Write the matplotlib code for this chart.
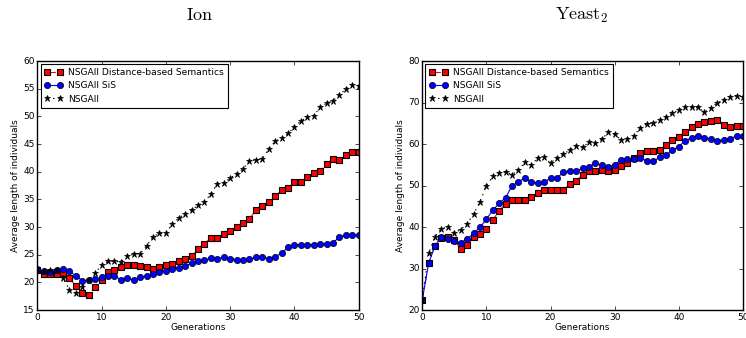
import matplotlib
matplotlib.use("Agg")
import matplotlib.pyplot as plt
import numpy as np

plt.style.use('classic')
plt.rcParams['mathtext.fontset'] = 'cm'
plt.rcParams['font.family'] = ['DejaVu Sans']

generations = list(range(51))

ion_dbs = [22.2, 21.45, 21.45, 21.5, 21.7, 20.7, 19.4, 18.0, 17.8, 19.1, 20.4,
           21.8, 22.3, 22.7, 23.2, 23.1, 23.0, 22.7, 22.5, 22.8, 23.2,
           23.4, 23.8, 24.2, 24.7, 26.0, 26.9, 28.1, 28.1, 28.7, 29.2,
           30.0, 30.8, 31.5, 33.0, 33.8, 34.6, 35.6, 36.6, 37.0, 38.2,
           38.1, 39.0, 39.7, 40.1, 41.4, 42.35, 42.2, 43.1, 43.6, 43.6]
ion_sis = [22.35, 22.1, 21.9, 22.2, 22.4, 22.0, 21.2, 20.3, 20.4, 20.6, 20.9,
           21.1, 21.1, 20.5, 20.7, 20.5, 20.9, 21.2, 21.5, 21.9, 22.05,
           22.35, 22.65, 22.9, 23.5, 23.85, 24.0, 24.4, 24.3, 24.5, 24.15,
           24.1, 24.0, 24.15, 24.6, 24.6, 24.3, 24.6, 25.3, 26.3, 26.7,
           26.8, 26.8, 26.75, 27.0, 26.9, 27.1, 28.25, 28.5, 28.5, 28.5]
ion_nsga = [22.4, 22.0, 22.2, 22.3, 20.7, 18.7, 18.0, 19.2, 20.4, 21.7, 23.1,
            23.8, 23.8, 23.7, 24.7, 25.1, 25.2, 26.6, 28.25, 28.85, 28.85,
            30.6, 31.6, 32.4, 33.1, 33.9, 34.5, 36.0, 37.8, 38.0, 38.8,
            39.6, 40.5, 42.0, 42.1, 42.3, 44.1, 45.5, 46.0, 46.9, 48.1,
            49.15, 49.8, 50.06, 51.7, 52.35, 52.8, 53.9, 54.9, 55.7, 55.5]

yeast_dbs = [22.4, 31.3, 35.5, 37.45, 37.7, 36.9, 34.6, 35.6, 37.5, 38.3, 39.6,
             41.7, 43.9, 45.6, 46.5, 46.6, 46.5, 47.2, 48.2, 48.9, 48.9,
             48.9, 48.9, 50.3, 51.1, 52.6, 53.4, 53.4, 53.7, 53.4, 53.8,
             54.6, 55.4, 56.6, 57.8, 58.4, 58.2, 58.6, 59.8, 61.0, 61.8,
             63.0, 64.0, 64.8, 65.2, 65.5, 65.8, 64.7, 64.0, 64.3, 64.3]
yeast_sis = [22.4, 31.3, 35.5, 37.7, 37.1, 36.65, 36.25, 37.05, 38.5, 39.9, 41.9,
             44.05, 45.7, 47.1, 49.9, 50.9, 51.8, 50.8, 50.6, 50.8, 51.8,
             51.8, 53.2, 53.4, 53.6, 54.1, 54.5, 55.4, 54.9, 54.5, 55.0,
             56.2, 56.4, 56.4, 56.6, 56.0, 55.8, 56.8, 57.3, 58.5, 59.4,
             60.8, 61.5, 62.0, 61.5, 61.1, 60.8, 61.0, 61.2, 62.0, 62.0]
yeast_nsga = [22.4, 33.7, 37.7, 39.6, 40.0, 38.6, 39.4, 40.8, 43.1, 46.1, 49.95,
              52.2, 52.9, 53.3, 52.6, 53.7, 55.6, 55.0, 56.6, 56.9, 55.4,
              56.7, 57.5, 58.6, 59.6, 59.2, 60.4, 60.2, 61.2, 62.8, 62.3,
              61.0, 61.2, 62.0, 63.9, 64.9, 65.0, 65.7, 66.5, 67.4, 68.2,
              68.9, 68.8, 68.8, 67.7, 68.6, 70.0, 70.5, 71.4, 71.6, 71.4]

labels = ["NSGAII Distance-based Semantics", "NSGAII SiS", "NSGAII"]

fig = plt.figure(figsize=(7.46, 3.38), dpi=100, facecolor='white')
ax1 = fig.add_axes([0.050, 0.0828, 0.4308, 0.7367])
ax2 = fig.add_axes([0.566, 0.0828, 0.4299, 0.7367])

def draw(ax, dbs, sis, nsga, ylim, yticks):
    ax.plot(generations, dbs, color='red', linestyle='--', linewidth=0.8,
            marker='s', markersize=4.3, markerfacecolor='red',
            markeredgecolor='black', markeredgewidth=0.8, label=labels[0])
    ax.plot(generations, sis, color='blue', linestyle='-', linewidth=0.8,
            marker='o', markersize=4.5, markerfacecolor='blue',
            markeredgecolor='black', markeredgewidth=0.5, label=labels[1])
    ax.plot(generations, nsga, color='black', linestyle=':', linewidth=0.8,
            marker='*', markersize=4.8, markerfacecolor='black',
            markeredgecolor='black', markeredgewidth=0.5, label=labels[2])
    ax.set_xlim(0, 50)
    ax.set_ylim(*ylim)
    ax.set_yticks(yticks)
    ax.set_xticks([0, 10, 20, 30, 40, 50])
    ax.tick_params(labelsize=6.5, direction='in', length=3, pad=2)
    ax.set_xlabel("Generations", fontsize=6.5, labelpad=1)
    ax.set_ylabel("Average length of individuals", fontsize=6.5, labelpad=2)
    leg = ax.legend(loc='upper left', fontsize=6.6, numpoints=2,
                    handlelength=2.0, borderpad=0.45, labelspacing=0.45,
                    handletextpad=0.6, borderaxespad=0.35, fancybox=False)
    leg.get_frame().set_linewidth(0.8)

draw(ax1, ion_dbs, ion_sis, ion_nsga, (15, 60), [15, 20, 25, 30, 35, 40, 45, 50, 55, 60])
draw(ax2, yeast_dbs, yeast_sis, yeast_nsga, (20, 80), [20, 30, 40, 50, 60, 70, 80])

fig.text(0.268, 0.955, r'$\mathrm{Ion}$', fontsize=13, ha='center', va='center')
fig.text(0.78, 0.955, r'$\mathrm{Yeast}_2$', fontsize=13, ha='center', va='center')

fig.savefig("out.png", dpi=100, facecolor='white')
